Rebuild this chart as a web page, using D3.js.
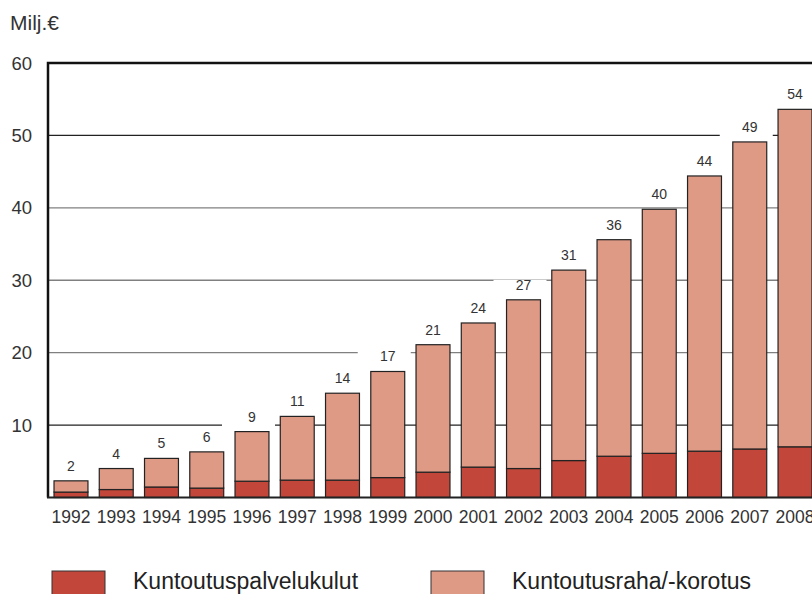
<!DOCTYPE html>
<html>
<head>
<meta charset="utf-8">
<script src="https://cdn.jsdelivr.net/npm/d3@7"></script>
<style>
  body { margin: 0; background: #fff; }
  svg { display: block; font-family: "Liberation Sans", Arial, sans-serif; }
</style>
</head>
<body>
<svg id="chart" width="812" height="594"></svg>
<script>
const years = ['1992', '1993', '1994', '1995', '1996', '1997', '1998', '1999', '2000',
  '2001', '2002', '2003', '2004', '2005', '2006', '2007', '2008'];
// Kuntoutuspalvelukulut (dark)
const palvelu = [0.75, 1.1, 1.45, 1.3, 2.25, 2.4, 2.4, 2.75, 3.5, 4.2, 4.0, 5.1, 5.7, 6.1, 6.4, 6.7, 7.0];
// Kuntoutusraha/-korotus (light)
const raha = [1.55, 2.9, 3.95, 5.0, 6.85, 8.8, 12.0, 14.65, 17.6, 19.9, 23.3, 26.3, 29.9, 33.7, 38.0, 42.4, 46.6];
const totalLabels = ['2', '4', '5', '6', '9', '11', '14', '17', '21', '24', '27', '31', '36', '40', '44', '49', '54'];
const yTicks = [10, 20, 30, 40, 50, 60];
const seriesNames = ['Kuntoutuspalvelukulut', 'Kuntoutusraha/-korotus'];
const colors = ['#c2473a', '#df9a86'];

const svg = d3.select('#chart');

const x = d3.scaleBand()
  .domain(years)
  .range([48, 818])
  .paddingInner(0.25)
  .paddingOuter(0.133);

const y = d3.scaleLinear().domain([0, 60]).range([497.5, 63]);

const rows = years.map((yr, i) => ({ year: yr, palvelu: palvelu[i], raha: raha[i] }));
const stacked = d3.stack().keys(['palvelu', 'raha'])(rows);

// gridlines
svg.append('g')
  .selectAll('line')
  .data(yTicks.filter(t => t < 60))
  .join('line')
    .attr('x1', 48)
    .attr('x2', 830)
    .attr('y1', d => y(d))
    .attr('y2', d => y(d))
    .attr('stroke', d => (d === 10 || d === 50) ? '#222' : '#808080')
    .attr('stroke-width', 1.3);

// white boxes behind value labels (they break the gridlines)
const barTop = i => y(palvelu[i] + raha[i]);
svg.append('g')
  .selectAll('rect')
  .data(years)
  .join('rect')
    .attr('x', d => x(d) + x.bandwidth() / 2 - 30)
    .attr('width', 53)
    .attr('y', (d, i) => barTop(i) - 20)
    .attr('height', 16.5)
    .attr('fill', '#fff');

// bars
svg.append('g')
  .selectAll('g')
  .data(stacked)
  .join('g')
    .attr('fill', (d, i) => colors[i])
  .selectAll('rect')
  .data(d => d)
  .join('rect')
    .attr('x', d => x(d.data.year))
    .attr('width', x.bandwidth())
    .attr('y', d => y(d[1]))
    .attr('height', d => y(d[0]) - y(d[1]))
    .attr('stroke', '#222')
    .attr('stroke-width', 1.2);

// value labels
svg.append('g')
  .selectAll('text')
  .data(years)
  .join('text')
    .attr('x', d => x(d) + x.bandwidth() / 2)
    .attr('y', (d, i) => barTop(i) - 10)
    .attr('text-anchor', 'middle')
    .attr('font-size', 14)
    .attr('fill', '#333')
    .text((d, i) => totalLabels[i]);

// frame: left, top, bottom
svg.append('path')
  .attr('d', `M${48},${y(0)} V${y(60)} H830`)
  .attr('fill', 'none')
  .attr('stroke', '#111')
  .attr('stroke-width', 2.5);
svg.append('line')
  .attr('x1', 47).attr('x2', 830)
  .attr('y1', y(0)).attr('y2', y(0))
  .attr('stroke', '#222')
  .attr('stroke-width', 2.2);

// y tick labels
svg.append('g')
  .selectAll('text')
  .data(yTicks)
  .join('text')
    .attr('x', 32)
    .attr('y', d => y(d) + 6.5)
    .attr('text-anchor', 'end')
    .attr('font-size', 18.5)
    .attr('fill', '#333')
    .text(d => d);

svg.append('text')
  .attr('x', 10)
  .attr('y', 30)
  .attr('font-size', 21)
  .attr('fill', '#333')
  .text('Milj.\u20ac');

// year labels
svg.append('g')
  .selectAll('text')
  .data(years)
  .join('text')
    .attr('x', d => x(d) + x.bandwidth() / 2)
    .attr('y', 523)
    .attr('text-anchor', 'middle')
    .attr('font-size', 17.5)
    .attr('fill', '#333')
    .text(d => d);

// legend
const legendX = [52, 431];
const legendTextX = [133, 512];
const legend = svg.append('g')
  .selectAll('g')
  .data(seriesNames)
  .join('g');
legend.append('rect')
  .attr('x', (d, i) => legendX[i])
  .attr('y', 571)
  .attr('width', 53)
  .attr('height', 30)
  .attr('fill', (d, i) => colors[i])
  .attr('stroke', '#333')
  .attr('stroke-width', 1);
legend.append('text')
  .attr('x', (d, i) => legendTextX[i])
  .attr('y', 589)
  .attr('font-size', 23)
  .attr('fill', '#222')
  .text(d => d);
</script>
</body>
</html>
